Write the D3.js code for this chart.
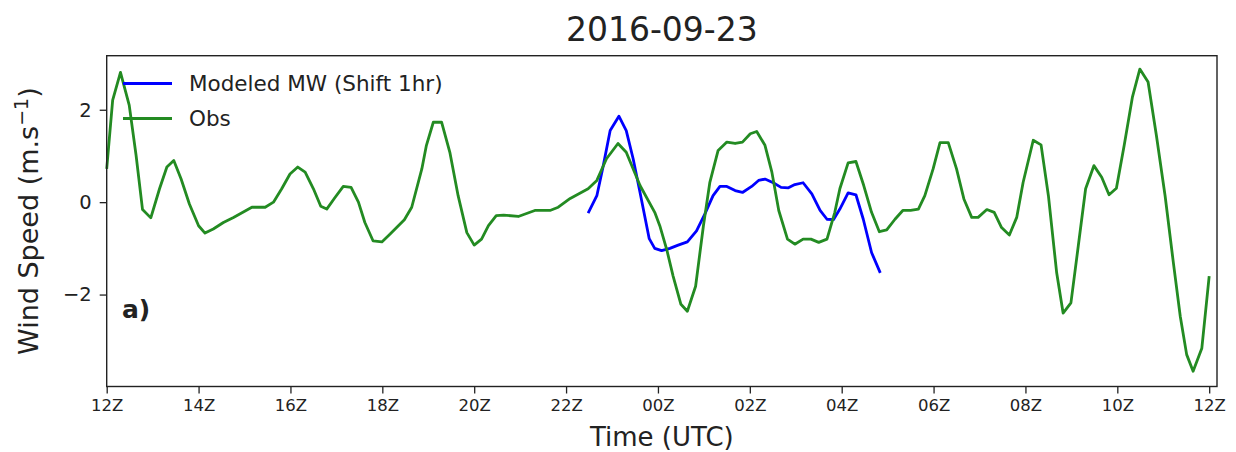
<!DOCTYPE html>
<html>
<head>
<meta charset="utf-8">
<script src="https://cdn.jsdelivr.net/npm/d3@7"></script>
<style>
  body { margin: 0; background: #fff; }
  text { font-family: "DejaVu Sans", sans-serif; fill: #222; }
</style>
</head>
<body>
<script>
// hours after 12Z on 2016-09-23
var obsHours = [0.00, 0.13, 0.30, 0.49, 0.64, 0.78, 0.96, 1.15, 1.31, 1.46, 1.62, 1.80, 2.00, 2.14, 2.32, 2.54, 2.76,
    3.16, 3.45, 3.63, 3.81, 3.99, 4.16, 4.32, 4.50, 4.66, 4.79, 4.97, 5.15, 5.32, 5.48, 5.62, 5.80, 5.99, 6.17,
    6.48, 6.64, 6.86, 6.96, 7.11, 7.29, 7.47, 7.65, 7.84, 8.00, 8.16, 8.31, 8.48, 8.64, 8.96, 9.32, 9.65, 9.83,
    10.09, 10.48, 10.67, 10.88, 11.13, 11.31, 11.61, 11.93, 12.04, 12.19, 12.33, 12.50, 12.64, 12.82, 12.99,
    13.13, 13.31, 13.50, 13.68, 13.84, 14.01, 14.15, 14.33, 14.48, 14.63, 14.82, 14.98, 15.16, 15.33, 15.50,
    15.68, 15.85, 15.96, 16.14, 16.31, 16.48, 16.65, 16.82, 16.98, 17.16, 17.33, 17.50, 17.67, 17.81, 17.99,
    18.14, 18.32, 18.50, 18.66, 18.83, 18.97, 19.16, 19.32, 19.48, 19.65, 19.81, 19.95, 20.17, 20.34, 20.50,
    20.68, 20.82, 20.99, 21.15, 21.31, 21.49, 21.66, 21.82, 21.98, 22.15, 22.33, 22.49, 22.67, 22.85, 23.04,
    23.22, 23.37, 23.51, 23.65, 23.84, 24.00];
var obsSpeed = [0.72, 2.21, 2.81, 2.10, 1.01, -0.16, -0.34, 0.29, 0.76, 0.90, 0.50, -0.04, -0.51, -0.67, -0.58, -0.44, -0.33,
    -0.11, -0.11, 0.00, 0.29, 0.61, 0.76, 0.65, 0.29, -0.09, -0.15, 0.10, 0.34, 0.32, 0.00, -0.44, -0.84, -0.86, -0.69,
    -0.38, -0.11, 0.72, 1.23, 1.73, 1.73, 1.08, 0.14, -0.66, -0.93, -0.80, -0.51, -0.29, -0.28, -0.31, -0.18, -0.18, -0.11,
    0.08, 0.29, 0.47, 0.94, 1.27, 1.08, 0.36, -0.22, -0.51, -1.02, -1.60, -2.21, -2.36, -1.82, -0.51,
    0.43, 1.12, 1.30, 1.27, 1.30, 1.48, 1.53, 1.23, 0.65, -0.18, -0.80, -0.91, -0.80, -0.80, -0.87,
    -0.80, -0.22, 0.29, 0.85, 0.88, 0.36, -0.22, -0.64, -0.60, -0.37, -0.18, -0.18, -0.15, 0.14, 0.72,
    1.29, 1.29, 0.72, 0.07, -0.33, -0.33, -0.16, -0.22, -0.55, -0.71, -0.33, 0.43, 1.34, 1.24, 0.14,
    -1.53, -2.40, -2.18, -0.95, 0.29, 0.79, 0.54, 0.16, 0.30, 1.23, 2.28, 2.88, 2.60, 1.45, 0.14,
    -1.31, -2.47, -3.30, -3.66, -3.16, -1.60];

var modelHours = [10.48, 10.67, 10.81, 10.96, 11.15, 11.31, 11.46, 11.61, 11.81, 11.93, 12.08, 12.26, 12.44, 12.64,
    12.84, 13.02, 13.20, 13.35, 13.50, 13.68, 13.84, 14.04, 14.19, 14.33, 14.51, 14.68, 14.84, 14.98, 15.16,
    15.35, 15.53, 15.68, 15.82, 15.96, 16.14, 16.31, 16.47, 16.65, 16.84];
var modelSpeed = [-0.24, 0.14, 0.79, 1.55, 1.86, 1.55, 0.94, 0.21, -0.79, -1.00, -1.05, -1.00, -0.93, -0.86,
    -0.62, -0.26, 0.14, 0.34, 0.34, 0.25, 0.21, 0.34, 0.47, 0.50, 0.42, 0.32, 0.31, 0.38, 0.42,
    0.18, -0.18, -0.37, -0.38, -0.15, 0.20, 0.16, -0.37, -1.09, -1.53];

var tickHours = [0, 2, 4, 6, 8, 10, 12, 14, 16, 18, 20, 22, 24];
var tickLabels = ["12Z", "14Z", "16Z", "18Z", "20Z", "22Z", "00Z", "02Z", "04Z", "06Z", "08Z", "10Z", "12Z"];
var speedTicks = [-2, 0, 2];

var plotLeft = 106.7, plotRight = 1217, plotTop = 55.7, plotBottom = 386.5;

var svg = d3.select("body").append("svg")
    .attr("width", 1236)
    .attr("height", 452);

var x = d3.scaleLinear().domain([0, 24.17]).range([plotLeft, plotRight]);
var y = d3.scaleLinear().domain([-3.99, 3.17]).range([plotBottom, plotTop]);

var line = d3.line()
    .x(function(d){ return x(d[0]); })
    .y(function(d){ return y(d[1]); });

// axes
var xAxis = d3.axisBottom(x)
    .tickValues(tickHours)
    .tickSize(7)
    .tickPadding(6)
    .tickFormat(function(d, i){ return tickLabels[i]; });
var gx = svg.append("g")
    .attr("transform", "translate(0," + plotBottom + ")")
    .call(xAxis);
gx.select(".domain").remove();
gx.selectAll("text").style("font-size", "16.5px").attr("fill", "#222");
gx.selectAll("line").attr("stroke", "#222").attr("stroke-width", 1.3);

var yAxis = d3.axisLeft(y)
    .tickValues(speedTicks)
    .tickSize(7)
    .tickPadding(8)
    .tickFormat(function(d){ return d < 0 ? "\u2212" + Math.abs(d) : d; });
var gy = svg.append("g")
    .attr("transform", "translate(" + plotLeft + ",0)")
    .call(yAxis);
gy.select(".domain").remove();
gy.selectAll("text").style("font-size", "19.5px").attr("fill", "#222");
gy.selectAll("line").attr("stroke", "#222").attr("stroke-width", 1.3);

// lines
svg.append("path")
    .datum(d3.zip(modelHours, modelSpeed))
    .attr("d", line)
    .attr("fill", "none")
    .attr("stroke", "#0000ff")
    .attr("stroke-width", 2.8)
    .attr("stroke-linejoin", "round");

svg.append("path")
    .datum(d3.zip(obsHours, obsSpeed))
    .attr("d", line)
    .attr("fill", "none")
    .attr("stroke", "#238b22")
    .attr("stroke-width", 2.8)
    .attr("stroke-linejoin", "round");

// frame
svg.append("rect")
    .attr("x", plotLeft)
    .attr("y", plotTop)
    .attr("width", plotRight - plotLeft)
    .attr("height", plotBottom - plotTop)
    .attr("fill", "none")
    .attr("stroke", "#222")
    .attr("stroke-width", 1.4);

// legend
var legend = [["Modeled MW (Shift 1hr)", "#0000ff"], ["Obs", "#238b22"]];
legend.forEach(function(item, i){
    var ly = 83.5 + i * 35;
    svg.append("line")
        .attr("x1", 123).attr("x2", 172)
        .attr("y1", ly).attr("y2", ly)
        .attr("stroke", item[1])
        .attr("stroke-width", 2.8);
    svg.append("text")
        .attr("x", 189)
        .attr("y", ly + 7.5)
        .style("font-size", "21.5px")
        .text(item[0]);
});

// labels
svg.append("text")
    .attr("x", 122)
    .attr("y", 318)
    .style("font-size", "25px")
    .style("font-weight", "bold")
    .text("a)");

svg.append("text")
    .attr("x", (plotLeft + plotRight) / 2)
    .attr("y", 41)
    .attr("text-anchor", "middle")
    .style("font-size", "33px")
    .text("2016-09-23");

svg.append("text")
    .attr("x", (plotLeft + plotRight) / 2)
    .attr("y", 446)
    .attr("text-anchor", "middle")
    .style("font-size", "26px")
    .text("Time (UTC)");

var ylab = svg.append("text")
    .attr("transform", "translate(38," + (plotTop + plotBottom) / 2 + ") rotate(-90)")
    .attr("text-anchor", "middle")
    .style("font-size", "27px");
ylab.append("tspan").text("Wind Speed (m.s");
ylab.append("tspan").attr("dy", -10).style("font-size", "19px").text("\u22121");
ylab.append("tspan").attr("dy", 10).text(")");
</script>
</body>
</html>
